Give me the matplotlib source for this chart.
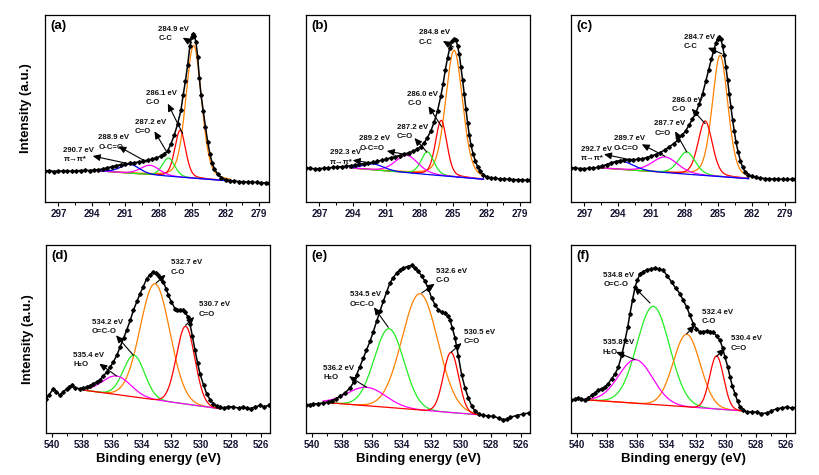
import numpy as np
import matplotlib
matplotlib.use('Agg')
import matplotlib.pyplot as plt
from matplotlib.ticker import MultipleLocator

plt.rcParams['font.family'] = ['Liberation Sans', 'DejaVu Sans']
plt.rcParams['font.weight'] = 'bold'

# ---------------- DATA ----------------
# (a) C 1s
A_E = [298.2, 297.8, 297.4, 297.0, 296.6, 296.2, 295.8, 295.4, 295.0, 294.6, 294.2, 293.8, 293.4, 293.0, 292.6,
       292.2, 291.8, 291.4, 291.0, 290.6, 290.2, 289.8, 289.4, 289.0, 288.6, 288.2, 287.8, 287.5, 287.2, 286.9,
       286.6, 286.3, 286.0, 285.8, 285.6, 285.4, 285.2, 285.05, 284.94, 284.8, 284.65, 284.5, 284.35, 284.2, 284.0,
       283.8, 283.6, 283.4, 283.2, 283.0, 282.7, 282.4, 282.0, 281.6, 281.2, 280.8, 280.4, 280.0, 279.6, 279.2,
       278.8, 278.4, 278.1]
A_I = [31, 31.5, 30.5, 31.2, 30.8, 31, 30.6, 31.2, 31.5, 31.7, 31.5, 32, 32.3, 33.2, 34.2,
       35.3, 36.5, 37.4, 38, 38.6, 39.2, 40, 41, 41.8, 42.8, 44.2, 46, 48, 51, 58,
       67, 78, 92, 107, 121, 137, 156, 165, 168.3, 166, 160, 145, 124, 107, 91,
       75, 60, 48, 39, 33, 28, 24.5, 22.5, 21.5, 20.8, 20.5, 20.2, 20, 19.8, 19.6,
       19.3, 19.2, 19]
A_BG = [(293.3, 31.0), (281.6, 21.0)]
A_CENTER = [284.86, 286.07, 287.12, 288.77, 290.57]
A_HEIGHT = [132.9, 46.9, 18.3, 9.6, 9.0]
A_FWHM = [1.65, 1.15, 1.3, 2.0, 2.0]
A_LABELS = [("284.9 eV", "C-C"), ("286.1 eV", "C-O"), ("287.2 eV", "C=O"),
            ("288.9 eV", "O-C=O"), ("290.7 eV", "π→π*")]

# (b) C 1s
B_E = [298.2, 297.8, 297.4, 297.0, 296.6, 296.2, 295.8, 295.4, 295.0, 294.6, 294.2, 293.8, 293.4, 293.0, 292.6,
       292.2, 291.8, 291.4, 291.0, 290.6, 290.2, 289.8, 289.4, 289.0, 288.6, 288.2, 287.9, 287.6, 287.3, 287.0,
       286.7, 286.4, 286.1, 285.9, 285.7, 285.5, 285.3, 285.1, 284.91, 284.75, 284.6, 284.45, 284.3, 284.15, 284.0,
       283.85, 283.7, 283.55, 283.4, 283.2, 283.0, 282.8, 282.6, 282.3, 282.0, 281.6, 281.2, 280.8, 280.4, 280.0,
       279.6, 279.2, 278.8, 278.4, 278.1]
B_I = [34, 33.6, 33.2, 33.4, 33.8, 34, 34.6, 35, 35.3, 35.8, 36.3, 36.9, 37.6, 38.3, 39,
       39.8, 40.7, 41.8, 43, 44.2, 45.4, 46.5, 47.8, 49.2, 50.8, 53, 55.5, 59, 64.5, 71,
       80, 91, 106, 118, 132, 144, 154, 160.5, 163.3, 162, 156, 148, 135, 122, 108,
       93, 79, 67, 57, 48, 41, 35, 31, 27.5, 25.2, 24.2, 23.6, 23.2, 23, 22.7,
       22.5, 22.3, 22, 21.8, 21.7]
B_BG = [(294.25, 34.0), (282.27, 22.7)]
B_CENTER = [284.91, 286.07, 287.3, 289.16, 292.15]
B_HEIGHT = [126.5, 55.4, 22.6, 17.5, 6.0]
B_FWHM = [1.8, 1.2, 1.35, 2.4, 2.2]
B_LABELS = [("284.8 eV", "C-C"), ("286.0 eV", "C-O"), ("287.2 eV", "C=O"),
            ("289.2 eV", "O-C=O"), ("292.3 eV", "π→π*")]

# (c) C 1s
C_E = [298.2, 297.8, 297.4, 297.0, 296.6, 296.2, 295.8, 295.4, 295.0, 294.6, 294.2, 293.8, 293.4, 293.0, 292.6,
       292.2, 291.8, 291.4, 291.0, 290.6, 290.2, 289.8, 289.4, 289.0, 288.6, 288.2, 287.9, 287.6, 287.3, 287.0,
       286.7, 286.4, 286.1, 285.85, 285.6, 285.4, 285.2, 285.05, 284.9, 284.75, 284.6, 284.45, 284.3, 284.15, 284.0,
       283.85, 283.7, 283.55, 283.4, 283.2, 283.0, 282.8, 282.6, 282.3, 282.0, 281.6, 281.2, 280.8, 280.4, 280.0,
       279.6, 279.2, 278.8, 278.4, 278.1]
C_I = [34.3, 34, 33.5, 33.4, 33.6, 34, 34.6, 35.8, 37.5, 39.2, 40.5, 41.4, 42, 42.4, 42.5,
       42.6, 43.3, 44.5, 46, 47.5, 49.5, 52, 55, 58.3, 62, 67, 71.5, 77, 83, 89,
       98, 108, 121, 132, 143, 151, 159, 163, 165, 163, 156, 147, 135, 122, 108,
       95, 82, 71, 60, 50, 41, 35, 30.5, 27.5, 25.8, 24.6, 24, 23.5, 23.2, 23,
       22.8, 22.7, 22.7, 22.6, 22.7]
C_BG = [(295.6, 34.0), (282.27, 23.3)]
C_CENTER = [284.82, 286.16, 287.81, 289.76, 293.65]
C_HEIGHT = [121.3, 54.6, 22.3, 15.7, 8.3]
C_FWHM = [1.65, 1.5, 1.8, 2.7, 2.5]
C_LABELS = [("284.7 eV", "C-C"), ("286.0 eV", "C-O"), ("287.7 eV", "C=O"),
            ("289.7 eV", "O-C=O"), ("292.7 eV", "π→π*")]

# (d) O 1s
D_E = [540.4, 540.2, 539.91, 539.7, 539.46, 539.25, 539.02, 538.85, 538.68, 538.45, 538.12, 537.9, 537.68, 537.45,
       537.23, 537.0, 536.78, 536.55, 536.34, 536.1, 535.89, 535.65, 535.44, 535.2, 535.0, 534.75, 534.55, 534.3,
       534.1, 533.9, 533.66, 533.45, 533.21, 533.05, 532.88, 532.7, 532.54, 532.35, 532.21, 532.0, 531.76, 531.6,
       531.43, 531.25, 531.09, 530.9, 530.76, 530.6, 530.42, 530.25, 530.09, 529.85, 529.64, 529.4, 529.2, 528.95,
       528.75, 528.5, 528.2, 527.85, 527.5, 527.2, 526.96, 526.7, 526.4, 526.07, 525.8, 525.44]
D_I = [34.3, 38, 44.3, 41, 37.7, 41, 44.3, 46, 47.7, 45, 44.3, 45, 46, 47.5,
       49.3, 51, 53.3, 57, 61, 66, 71, 78, 86, 95, 102.7, 113, 122.7, 132,
       139.3, 146, 154.3, 158, 161, 160, 157.7, 155, 151, 144, 137.7, 131, 124.3, 123,
       122.7, 123, 121, 116, 109.3, 97, 82.7, 70, 59.3, 48, 39.3, 33, 29.3, 27,
       26, 25, 26.5, 26, 25, 26, 25, 24.5, 26, 27.7, 26.5, 27.7]
D_BG = [(537.79, 42.7), (528.75, 24.3)]
D_CENTER = [533.1, 534.51, 535.67, 531.05]
D_HEIGHT = [116.1, 41.7, 18.6, 77.7]
D_FWHM = [2.34, 1.67, 2.23, 1.45]
D_LABELS = [("532.7 eV", "C-O"), ("534.2 eV", "O=C-O"), ("535.4 eV", "H₂O"), ("530.7 eV", "C=O")]

# (e) O 1s
E_E = [540.4, 540.1, 539.91, 539.6, 539.24, 538.95, 538.68, 538.4, 538.12, 537.8, 537.45, 537.2, 537.01, 536.8,
       536.56, 536.35, 536.11, 535.9, 535.67, 535.45, 535.22, 535.0, 534.78, 534.55, 534.33, 534.1, 533.88, 533.6,
       533.32, 533.1, 532.88, 532.65, 532.43, 532.2, 531.99, 531.75, 531.54, 531.3, 531.09, 530.9, 530.76, 530.6,
       530.42, 530.2, 529.98, 529.75, 529.53, 529.3, 529.08, 528.8, 528.52, 528.2, 527.85, 527.5, 527.19, 526.95,
       526.74, 526.3, 525.85, 525.5]
E_I = [28.3, 28.5, 29, 29.5, 30, 31, 32.3, 34, 36.7, 40, 45, 51, 58.3, 66,
       75, 83, 91.7, 101, 111.7, 122, 131.7, 141, 150, 155.5, 160, 163, 165, 166.5,
       167.7, 165, 161.7, 157, 151.7, 144, 135, 128, 123.3, 121, 120, 117, 113.3, 105,
       95, 77, 58.3, 45, 35, 27, 21.7, 19, 17.7, 17, 16.7, 15, 13.3, 14,
       15.7, 17.5, 19, 20]
E_BG = [(539.24, 30.7), (528.86, 18.3)]
E_CENTER = [532.77, 534.84, 536.34, 530.69]
E_HEIGHT = [116.3, 78.9, 18.5, 60.2]
E_FWHM = [2.83, 2.34, 3.0, 1.2]
E_LABELS = [("532.6 eV", "C-O"), ("534.5 eV", "O=C-O"), ("536.2 eV", "H₂O"), ("530.5 eV", "C=O")]

# (f) O 1s
F_E = [540.4, 540.15, 539.91, 539.7, 539.46, 539.25, 539.02, 538.8, 538.57, 538.35, 538.12, 537.9, 537.68, 537.45,
       537.23, 537.0, 536.78, 536.6, 536.45, 536.28, 536.11, 535.95, 535.78, 535.55, 535.33, 535.05, 534.78, 534.5,
       534.22, 533.95, 533.66, 533.4, 533.1, 532.9, 532.65, 532.45, 532.21, 532.0, 531.76, 531.55, 531.32, 531.1,
       530.87, 530.65, 530.42, 530.25, 530.09, 529.9, 529.75, 529.6, 529.42, 529.25, 529.08, 528.85, 528.64, 528.3,
       527.97, 527.65, 527.3, 527.0, 526.63, 526.3, 525.96, 525.6, 525.29]
F_I = [32.7, 34, 35.3, 34, 33.3, 35, 37.7, 40, 42.7, 44.5, 46, 49.5, 54.3, 59,
       66, 78, 92.7, 106, 119.3, 133, 146, 153, 159.3, 161.5, 163.3, 164, 165, 164,
       162.7, 157, 151, 145, 139.3, 133, 126, 118, 109.3, 104, 101, 101.5, 102, 101.5,
       101, 97, 92.7, 85, 76, 66, 56, 47, 39.3, 32, 26, 23, 21, 21,
       21, 19.5, 20, 22, 24.3, 25, 26, 25, 26]
F_BG = [(539.46, 33.3), (528.75, 22.0)]
F_CENTER = [534.89, 532.65, 536.07, 530.65]
F_HEIGHT = [98.2, 72.6, 43.6, 53.0]
F_FWHM = [2.57, 2.12, 2.68, 1.1]
F_LABELS = [("534.8 eV", "O=C-O"), ("532.4 eV", "C-O"), ("535.8 eV", "H₂O"), ("530.4 eV", "C=O")]

TOP_TICKS = [297, 294, 291, 288, 285, 282, 279]
BOTTOM_TICKS = [540, 538, 536, 534, 532, 530, 528, 526]

# ---------------- STYLE / LAYOUT ----------------
ORANGE, RED, GREEN, MAGENTA, BLUE = '#FF8000', '#FF0000', '#22EE22', '#FF00FF', '#0000FF'
TOP_COLORS = [ORANGE, RED, GREEN, MAGENTA, BLUE]
D_COLORS = [ORANGE, GREEN, MAGENTA, RED]
E_COLORS = [ORANGE, GREEN, MAGENTA, RED]
F_COLORS = [GREEN, ORANGE, MAGENTA, RED]
TOP_LORENTZ = 0.25   # Gaussian-Lorentzian mixing used for the C 1s line shapes
BOT_LORENTZ = 0.0

# annotation layout: (text_x, text_y, head_x, head_y, tail_x, tail_y)
A_POS = [(288.02, 176, 285.84, 164.3, 285.03, 159),
         (289.16, 112.3, 287.18, 98.3, 285.84, 68.3),
         (290.12, 83.3, 288.38, 70.7, 287.27, 50),
         (293.41, 67.7, 291.61, 55.7, 289.07, 40),
         (296.55, 55, 293.92, 46, 290.71, 38.3)]
B_POS = [(288.05, 172.7, 285.92, 161, 284.97, 155),
         (289.1, 111, 287.21, 95.7, 286.01, 75),
         (290.06, 78.3, 288.47, 64, 287.36, 50),
         (293.41, 66.7, 290.95, 51, 288.86, 46.7),
         (296.04, 52.7, 294.01, 41.7, 291.85, 38.3)]
C_POS = [(288.05, 168.3, 285.92, 154.3, 284.67, 148.3),
         (289.16, 105, 287.36, 93.3, 286.16, 78.3),
         (290.71, 81.7, 288.86, 70.7, 287.81, 50),
         (294.34, 66.7, 291.85, 57.7, 289.76, 45.7),
         (297.33, 56, 295.24, 47.7, 292.9, 42.3)]
D_POS = [(532.05, 173.7, 532.39, 158.3, 533.03, 150),
         (537.34, 114.3, 535.71, 97.7, 534.55, 77.7),
         (538.57, 81, 536.83, 69.3, 535.67, 57),
         (530.15, 131.7, 530.47, 116, 531.05, 107.7)]
E_POS = [(531.69, 165, 531.78, 149.3, 532.65, 140),
         (537.45, 141.7, 535.85, 125.7, 534.89, 105.7),
         (539.24, 68.3, 537.52, 56.7, 536.34, 45.7),
         (529.82, 104.3, 529.98, 90, 530.69, 80.7)]
F_POS = [(538.23, 161, 536.16, 146, 535.11, 130),
         (531.65, 124.3, 532.1, 107.7, 532.65, 99.3),
         (538.28, 93.7, 537.39, 81, 536.11, 73.3),
         (529.71, 97.7, 530.09, 84.3, 530.65, 76.7)]

W, H = 819, 475
fig = plt.figure(figsize=(W / 100, H / 100), dpi=100)


def add_ax(left, top, w=224, h=187):
    return fig.add_axes([left / W, 1 - (top + h) / H, w / W, h / H])


TICKCOL = '#141432'


def line_shape(x, c, w, eta):
    g = np.exp(-4 * np.log(2) * (x - c) ** 2 / w ** 2)
    lor = 1.0 / (1.0 + 4 * (x - c) ** 2 / w ** 2)
    return (1 - eta) * g + eta * lor


def draw_panel(ax, letter, E, I, bg, centers, heights, fwhms, colors, labels, pos,
               xlim, ticks, minor, ylim, eta):
    (e0, i0), (e1, i1) = bg
    grid = np.linspace(e0, e1, 500)
    base = i0 + (i1 - i0) * (grid - e0) / (e1 - e0)
    for c, h, w, col in zip(centers, heights, fwhms, colors):
        ax.plot(grid, base + h * line_shape(grid, c, w, eta), color=col, lw=0.9, zorder=2)
    ax.plot(E, I, color='black', lw=1.1, marker='D', ms=1.9, zorder=3)
    for (l1, l2), (tx, ty, hx, hy, sx, sy) in zip(labels, pos):
        ax.text(tx, ty, l1 + '\n' + l2, fontsize=5.6, fontweight='bold', ha='left', va='top',
                linespacing=1.45, color='#111111', zorder=4)
        ax.annotate('', xy=(hx, hy), xytext=(sx, sy),
                    arrowprops=dict(arrowstyle='-|>,head_length=0.55,head_width=0.25',
                                    color='black', lw=0.8,
                                    mutation_scale=8, shrinkA=0, shrinkB=0), zorder=4)
    ax.set_xlim(*xlim)
    ax.set_ylim(*ylim)
    ax.set_xticks(ticks)
    ax.xaxis.set_minor_locator(MultipleLocator(minor))
    ax.set_yticks([])
    ax.tick_params(axis='x', which='major', direction='out', length=3, width=0.8,
                   labelsize=7, labelcolor=TICKCOL, pad=2)
    ax.tick_params(axis='x', which='minor', direction='out', length=1.8, width=0.7)
    for lab in ax.get_xticklabels():
        lab.set_fontweight('bold')
    for s in ax.spines.values():
        s.set_linewidth(0.9)
    ax.text(0.025, 0.975, letter, transform=ax.transAxes, fontsize=9.5, fontweight='bold',
            ha='left', va='top')


TOP_XLIM = (298.2, 278.1)
BOT_XLIM = (540.4, 525.4)

ax_a = add_ax(45, 15)
draw_panel(ax_a, '(a)', A_E, A_I, A_BG, A_CENTER, A_HEIGHT, A_FWHM, TOP_COLORS, A_LABELS, A_POS,
           TOP_XLIM, TOP_TICKS, 1.5, (0, 187), TOP_LORENTZ)
ax_b = add_ax(306, 15)
draw_panel(ax_b, '(b)', B_E, B_I, B_BG, B_CENTER, B_HEIGHT, B_FWHM, TOP_COLORS, B_LABELS, B_POS,
           TOP_XLIM, TOP_TICKS, 1.5, (0, 187), TOP_LORENTZ)
ax_c = add_ax(571, 15)
draw_panel(ax_c, '(c)', C_E, C_I, C_BG, C_CENTER, C_HEIGHT, C_FWHM, TOP_COLORS, C_LABELS, C_POS,
           TOP_XLIM, TOP_TICKS, 1.5, (0, 187), TOP_LORENTZ)
ax_d = add_ax(46, 245, h=188)
draw_panel(ax_d, '(d)', D_E, D_I, D_BG, D_CENTER, D_HEIGHT, D_FWHM, D_COLORS, D_LABELS, D_POS,
           BOT_XLIM, BOTTOM_TICKS, 1, (0, 188), BOT_LORENTZ)
ax_e = add_ax(306, 245, h=188)
draw_panel(ax_e, '(e)', E_E, E_I, E_BG, E_CENTER, E_HEIGHT, E_FWHM, E_COLORS, E_LABELS, E_POS,
           BOT_XLIM, BOTTOM_TICKS, 1, (0, 188), BOT_LORENTZ)
ax_f = add_ax(571, 245, h=188)
draw_panel(ax_f, '(f)', F_E, F_I, F_BG, F_CENTER, F_HEIGHT, F_FWHM, F_COLORS, F_LABELS, F_POS,
           BOT_XLIM, BOTTOM_TICKS, 1, (0, 188), BOT_LORENTZ)

for ax in (ax_a, ax_d):
    ax.set_ylabel('Intensity (a.u.)', fontsize=9.5, fontweight='bold', labelpad=9)
for ax in (ax_d, ax_e, ax_f):
    ax.set_xlabel('Binding energy (eV)', fontsize=9.5, fontweight='bold', labelpad=2)

fig.savefig('out.png', dpi=100)
